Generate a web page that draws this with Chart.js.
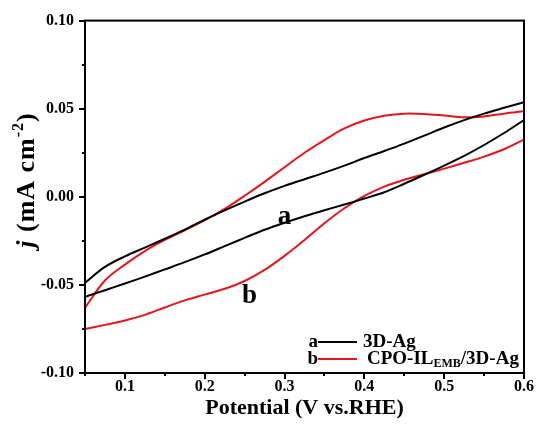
<!DOCTYPE html>
<html>
<head>
<meta charset="utf-8">
<script src="https://cdn.jsdelivr.net/npm/chart.js@4/dist/chart.umd.min.js"></script>
<style>
  html, body { margin: 0; padding: 0; background: #fff; }
</style>
</head>
<body>
<canvas id="cv" width="539" height="437"></canvas>
<script>
// Potential sweep (V vs. RHE): anodic scan forward, cathodic scan back
const potentialFwd = [0.05, 0.075, 0.10, 0.125, 0.15, 0.175, 0.20, 0.225, 0.25, 0.275, 0.30, 0.325,
                      0.35, 0.375, 0.40, 0.425, 0.45, 0.475, 0.50, 0.525, 0.55, 0.575, 0.60];
const potentialRev = [0.60, 0.575, 0.55, 0.525, 0.50, 0.475, 0.45, 0.425, 0.40, 0.375, 0.35, 0.325,
                      0.30, 0.275, 0.25, 0.225, 0.20, 0.175, 0.15, 0.125, 0.10, 0.075, 0.05];

// Current density j (mA cm^-2), curve a: 3D-Ag
const agFwd = [-0.0488, -0.0398, -0.0338, -0.0288, -0.0238, -0.0186, -0.0130, -0.0077, -0.0027, 0.0020, 0.0062, 0.0100,
               0.0137, 0.0177, 0.0220, 0.0260, 0.0302, 0.0347, 0.0393, 0.0435, 0.0472, 0.0505, 0.0537];
const agRev = [0.0436, 0.0362, 0.0294, 0.0232, 0.0177, 0.0125, 0.0074, 0.0026, -0.0010, -0.0044, -0.0076, -0.0110,
               -0.0147, -0.0187, -0.0233, -0.0280, -0.0327, -0.0371, -0.0412, -0.0453, -0.0492, -0.0530, -0.0568];

// Curve b: CPO-IL(EMB)/3D-Ag
const cpoFwd = [-0.0630, -0.0475, -0.0385, -0.0308, -0.0245, -0.0190, -0.0132, -0.0068, 0.0006, 0.0085, 0.0168, 0.0250,
                0.0322, 0.0388, 0.0433, 0.0460, 0.0472, 0.0470, 0.0461, 0.0451, 0.0456, 0.0472, 0.0485];
const cpoRev = [0.0325, 0.0270, 0.0228, 0.0193, 0.0160, 0.0128, 0.0097, 0.0058, 0.0005, -0.0065, -0.0150, -0.0245,
                -0.0335, -0.0415, -0.0478, -0.0522, -0.0555, -0.0588, -0.0628, -0.0670, -0.0702, -0.0727, -0.0751];

const xTickLabels = ['0.1', '0.2', '0.3', '0.4', '0.5', '0.6'];
const yTickLabels = ['-0.10', '-0.05', '0.00', '0.05', '0.10'];

const seriesNames = ['3D-Ag', 'CPO-IL/3D-Ag'];
const seriesTags = ['a', 'b'];
const seriesColors = ['#000000', '#e8141c'];

function sweep(xs, ys) {
  return xs.map((x, i) => ({ x, y: ys[i] }));
}

const SERIF = "'Liberation Serif', 'Times New Roman', serif";

function isLabelled(v, list, digits) {
  return list.indexOf(v.toFixed(digits)) >= 0 && Math.abs(Number(v.toFixed(digits)) - v) < 1e-9;
}

// Frame, tick marks, titles, curve tags and legend
const decor = {
  id: 'decor',
  afterDraw(chart) {
    const ctx = chart.ctx;
    const a = chart.chartArea;
    const xs = chart.scales.x, ys = chart.scales.y;
    ctx.save();
    ctx.strokeStyle = '#000';
    ctx.lineWidth = 2;
    ctx.strokeRect(a.left, a.top, a.right - a.left, a.bottom - a.top);

    // x ticks (outward)
    xs.ticks.forEach(t => {
      const px = Math.round(xs.getPixelForValue(t.value));
      const major = isLabelled(t.value, xTickLabels, 1);
      ctx.beginPath();
      ctx.moveTo(px, a.bottom);
      ctx.lineTo(px, a.bottom + (major ? 6 : 3));
      ctx.stroke();
    });
    // y ticks (outward)
    ys.ticks.forEach(t => {
      const py = Math.round(ys.getPixelForValue(t.value));
      const major = isLabelled(t.value, yTickLabels, 2);
      ctx.beginPath();
      ctx.moveTo(a.left, py);
      ctx.lineTo(a.left - (major ? 6 : 3), py);
      ctx.stroke();
    });

    // x axis title
    ctx.fillStyle = '#000';
    ctx.textAlign = 'center';
    ctx.textBaseline = 'alphabetic';
    ctx.font = 'bold 22px ' + SERIF;
    ctx.fillText('Potential (V vs.RHE)', (a.left + a.right) / 2, 414);

    // y axis title: j (mA cm^-2)
    ctx.save();
    ctx.translate(34, 180);
    ctx.rotate(-Math.PI / 2);
    ctx.letterSpacing = '1px';
    const parts = [
      { t: 'j', f: 'italic bold 26px ' + SERIF, dy: 0 },
      { t: ' (mA cm', f: 'bold 26px ' + SERIF, dy: 0 },
      { t: '-2', f: 'bold 16px ' + SERIF, dy: -11 },
      { t: ')', f: 'bold 26px ' + SERIF, dy: 0 }
    ];
    let total = 0;
    parts.forEach(p => { ctx.font = p.f; p.w = ctx.measureText(p.t).width; total += p.w; });
    let cx = -total / 2;
    ctx.textAlign = 'left';
    parts.forEach(p => { ctx.font = p.f; ctx.fillText(p.t, cx, p.dy); cx += p.w; });
    ctx.restore();

    // curve tags
    ctx.textAlign = 'center';
    ctx.font = 'bold 27px ' + SERIF;
    ctx.fillText(seriesTags[0], xs.getPixelForValue(0.3), ys.getPixelForValue(-0.0155));
    ctx.fillText(seriesTags[1], xs.getPixelForValue(0.256), ys.getPixelForValue(-0.0605));

    // legend
    const rows = [347, 364];
    ctx.font = 'bold 19px ' + SERIF;
    rows.forEach((by, i) => {
      ctx.fillStyle = '#000';
      ctx.textAlign = 'right';
      ctx.fillText(seriesTags[i], 318, by);
      ctx.strokeStyle = seriesColors[i];
      ctx.lineWidth = 2;
      ctx.beginPath();
      ctx.moveTo(318, by - 5);
      ctx.lineTo(357, by - 5);
      ctx.stroke();
    });
    ctx.textAlign = 'left';
    ctx.fillStyle = '#000';
    ctx.fillText(seriesNames[0], 363, rows[0]);
    let lx = 367;
    ctx.fillText('CPO-IL', lx, rows[1]);
    lx += ctx.measureText('CPO-IL').width;
    ctx.font = 'bold 12px ' + SERIF;
    ctx.fillText('EMB', lx, rows[1] + 3);
    lx += ctx.measureText('EMB').width;
    ctx.font = 'bold 19px ' + SERIF;
    ctx.fillText('/3D-Ag', lx, rows[1]);
    ctx.restore();
  }
};

function line(label, data, color) {
  return {
    label, data, showLine: true, borderColor: color, borderWidth: 2,
    pointRadius: 0, tension: 0.35, fill: false
  };
}

new Chart(document.getElementById('cv'), {
  type: 'scatter',
  data: {
    datasets: [
      line(seriesNames[0], sweep(potentialFwd, agFwd), seriesColors[0]),
      line(seriesNames[0], sweep(potentialRev, agRev), seriesColors[0]),
      line(seriesNames[1], sweep(potentialFwd, cpoFwd), seriesColors[1]),
      line(seriesNames[1], sweep(potentialRev, cpoRev), seriesColors[1])
    ]
  },
  options: {
    responsive: false,
    animation: false,
    devicePixelRatio: 1,
    layout: { padding: { top: 20, right: 15, left: 0, bottom: 0 } },
    plugins: { legend: { display: false }, tooltip: { enabled: false } },
    scales: {
      x: {
        type: 'linear', min: 0.05, max: 0.6,
        grid: { display: false, drawTicks: false },
        border: { display: false },
        afterFit(s) { s.height = 64; },
        ticks: {
          stepSize: 0.05, padding: 4, color: '#000', maxRotation: 0, autoSkip: false,
          font: { family: SERIF, weight: 'bold', size: 16 },
          callback: v => isLabelled(v, xTickLabels, 1) ? v.toFixed(1) : ''
        }
      },
      y: {
        type: 'linear', min: -0.1, max: 0.1,
        grid: { display: false, drawTicks: false },
        border: { display: false },
        afterFit(s) { s.width = 85; },
        ticks: {
          stepSize: 0.025, padding: 11, color: '#000', autoSkip: false,
          font: { family: SERIF, weight: 'bold', size: 16 },
          callback: v => isLabelled(v, yTickLabels, 2) ? v.toFixed(2) : ''
        }
      }
    }
  },
  plugins: [decor]
});
</script>
</body>
</html>
